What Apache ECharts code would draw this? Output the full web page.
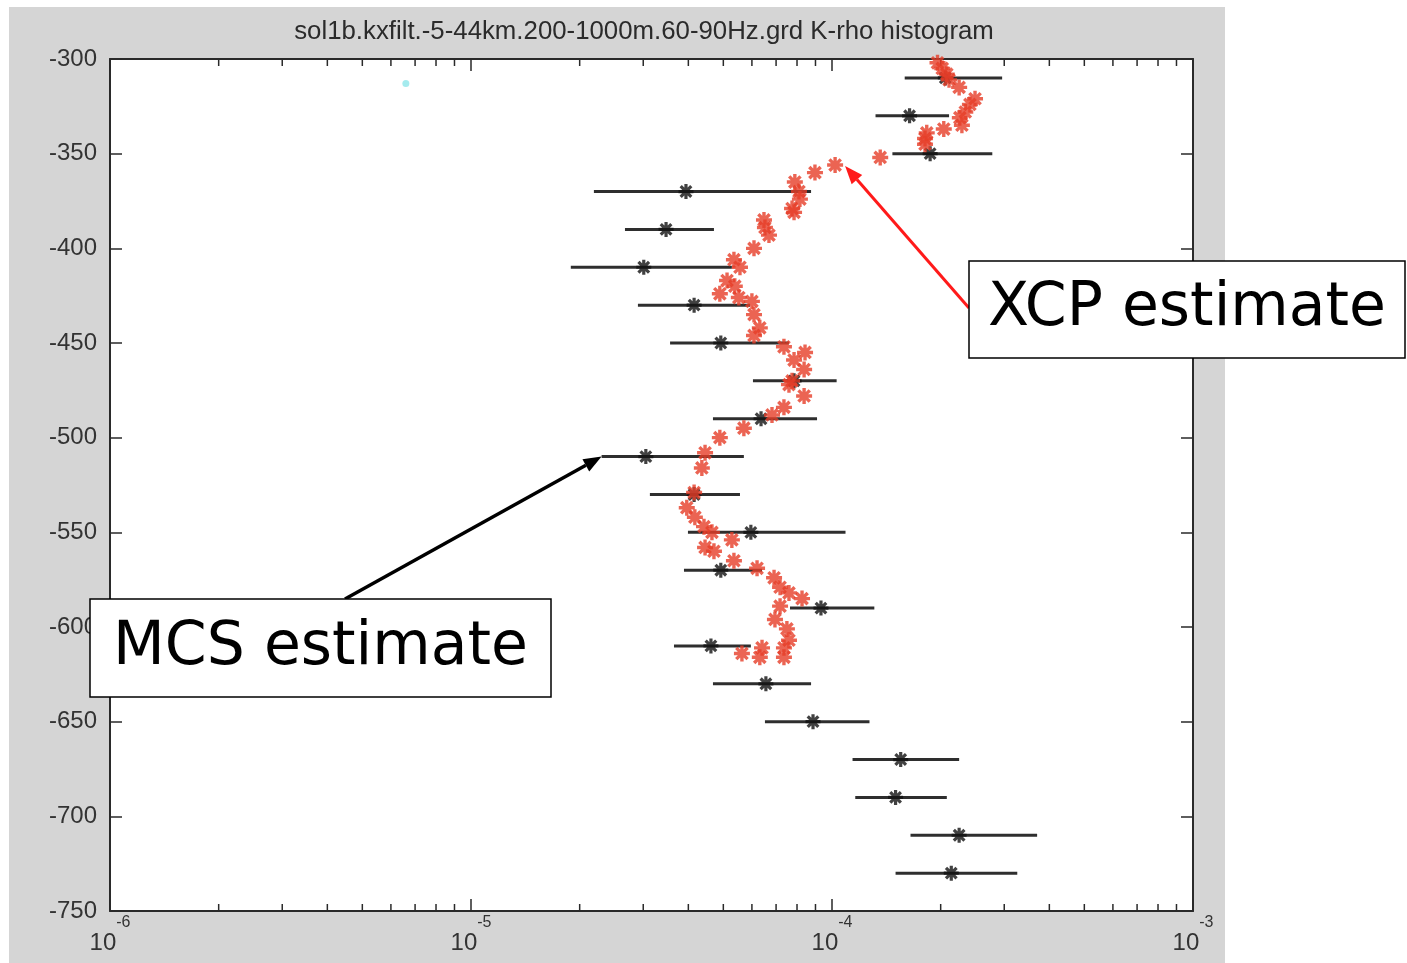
<!DOCTYPE html>
<html>
<head>
<meta charset="utf-8">
<title>K-rho histogram</title>
<script src="https://cdn.jsdelivr.net/npm/echarts@6/dist/echarts.min.js"></script>
<style>
  html, body { margin: 0; padding: 0; background: #ffffff; }
  #frame { position: absolute; left: 9px; top: 7px; width: 1216px; height: 956px; background: #d5d5d5; }
  #chart { position: absolute; left: 0; top: 0; width: 1407px; height: 963px; }
</style>
</head>
<body>
<div id="frame"></div>
<div id="chart"></div>
<script>
// ---- chart text ----
const titleText = 'sol1b.kxfilt.-5-44km.200-1000m.60-90Hz.grd K-rho histogram';
const xcpLabel = 'XCP estimate';
const mcsLabel = 'MCS estimate';

// ---- axes ----
const xMin = 1e-6;
const xMax = 1e-3;
const depthMin = -750;
const depthMax = -300;
const depthStep = 50;
const minorMantissas = [2, 3, 4, 5, 6, 7, 8, 9];
const minorDecades = [1e-6, 1e-5, 1e-4];

// ---- MCS estimate: depth, value and error range ----
const mcsDepth = [-310, -330, -350, -370, -390, -410, -430, -450, -470, -490, -510,
                  -530, -550, -570, -590, -610, -630, -650, -670, -690, -710, -730];
const mcsValue = [2.06e-4, 1.64e-4, 1.87e-4, 3.94e-5, 3.47e-5, 3.01e-5, 4.15e-5, 4.92e-5, 7.85e-5, 6.36e-5, 3.05e-5,
                  4.15e-5, 5.96e-5, 4.92e-5, 9.32e-5, 4.62e-5, 6.56e-5, 8.86e-5, 1.55e-4, 1.50e-4, 2.25e-4, 2.14e-4];
const mcsLow   = [1.59e-4, 1.32e-4, 1.47e-4, 2.19e-5, 2.67e-5, 1.89e-5, 2.90e-5, 3.56e-5, 6.04e-5, 4.68e-5, 2.30e-5,
                  3.13e-5, 3.99e-5, 3.89e-5, 7.65e-5, 3.65e-5, 4.68e-5, 6.52e-5, 1.14e-4, 1.16e-4, 1.65e-4, 1.50e-4];
const mcsHigh  = [2.96e-4, 2.11e-4, 2.78e-4, 8.75e-5, 4.71e-5, 5.28e-5, 5.93e-5, 7.60e-5, 1.03e-4, 9.09e-5, 5.70e-5,
                  5.56e-5, 1.09e-4, 6.40e-5, 1.31e-4, 5.96e-5, 8.75e-5, 1.27e-4, 2.25e-4, 2.08e-4, 3.70e-4, 3.26e-4];

// ---- XCP estimate profile ----
const xcpValue = [1.96e-4, 2.02e-4, 2.08e-4, 2.11e-4, 2.25e-4, 2.49e-4, 2.41e-4, 2.34e-4, 2.26e-4, 2.29e-4,
                  2.04e-4, 1.83e-4, 1.81e-4, 1.81e-4, 1.36e-4, 1.02e-4, 8.97e-5, 7.89e-5, 8.10e-5, 8.15e-5,
                  7.75e-5, 7.85e-5, 6.48e-5, 6.52e-5, 6.69e-5, 6.08e-5, 5.35e-5, 5.56e-5, 5.12e-5, 5.38e-5,
                  4.89e-5, 5.52e-5, 6.00e-5, 6.08e-5, 6.31e-5, 6.08e-5, 7.36e-5, 8.42e-5, 7.85e-5, 8.37e-5,
                  7.75e-5, 7.60e-5, 8.37e-5, 7.36e-5, 6.82e-5, 5.70e-5, 4.89e-5, 4.45e-5, 4.36e-5, 4.15e-5,
                  3.96e-5, 4.17e-5, 4.42e-5, 4.65e-5, 5.28e-5, 4.45e-5, 4.71e-5, 5.35e-5, 6.20e-5, 6.91e-5,
                  7.18e-5, 7.60e-5, 8.26e-5, 7.18e-5, 6.95e-5, 7.50e-5, 7.60e-5, 7.36e-5, 7.36e-5, 6.40e-5,
                  6.31e-5, 5.63e-5];
const xcpDepth = [-302, -305, -308, -311, -315, -321, -324, -328, -331, -335,
                  -337, -339, -342, -345, -352, -356, -360, -365, -370, -374,
                  -379, -381, -385, -389, -393, -400, -406, -410, -417, -420,
                  -424, -426, -428, -435, -442, -446, -452, -455, -459, -464,
                  -470, -472, -478, -484, -488, -495, -500, -508, -516, -529,
                  -537, -542, -547, -550, -554, -558, -560, -565, -569, -574,
                  -579, -582, -585, -589, -596, -601, -607, -611, -616, -611,
                  -616, -614];

// ---- single cyan marker near the top ----
const cyanValue = [6.6e-6];
const cyanDepth = [-313];

// asterisk marker used for both estimates
const asterisk = 'path://M10 0L10 20M0 10L20 10M2.93 2.93L17.07 17.07M2.93 17.07L17.07 2.93';

const FONT = '"Liberation Sans", Arial, Helvetica, sans-serif';
const LABEL_COLOR = '#333333';
const AXIS_COLOR = '#2a2a2a';

const minorTicks = [];
minorDecades.forEach(d => minorMantissas.forEach(m => minorTicks.push([m * d, depthMin])));

const errorBars = mcsDepth.map((d, i) => [mcsLow[i], mcsHigh[i], d]);
const mcsPoints = mcsDepth.map((d, i) => [mcsValue[i], d]);
const xcpPoints = xcpDepth.map((d, i) => [xcpValue[i], d]);
const cyanPoints = cyanDepth.map((d, i) => [cyanValue[i], d]);

const chart = echarts.init(document.getElementById('chart'), null, { renderer: 'canvas' });

const logAxisBase = {
  type: 'log',
  logBase: 10,
  min: xMin,
  max: xMax,
  splitLine: { show: false },
  minorTick: { show: false },
  axisLine: { show: true, onZero: false, lineStyle: { color: AXIS_COLOR, width: 2 } },
  axisTick: { show: true, inside: true, length: 12, lineStyle: { color: AXIS_COLOR, width: 1.5 } }
};
const depthAxisBase = {
  type: 'value',
  min: depthMin,
  max: depthMax,
  interval: depthStep,
  splitLine: { show: false },
  axisLine: { show: true, onZero: false, lineStyle: { color: AXIS_COLOR, width: 2 } },
  axisTick: { show: true, inside: true, length: 12, lineStyle: { color: AXIS_COLOR, width: 1.5 } }
};

chart.setOption({
  animation: false,
  backgroundColor: 'transparent',
  grid: {
    left: 110, right: 214, top: 59, bottom: 52,
    show: true, backgroundColor: '#ffffff', borderWidth: 0,
    containLabel: false, outerBoundsMode: 'none'
  },
  xAxis: [
    Object.assign({}, logAxisBase, {
      position: 'bottom',
      axisLabel: {
        show: true,
        margin: 4,
        formatter: v => '{b|10}{e|' + Math.round(Math.log10(v)) + '}',
        rich: {
          b: { fontSize: 24, fontFamily: FONT, color: LABEL_COLOR, lineHeight: 40, verticalAlign: 'bottom' },
          e: { fontSize: 16, fontFamily: FONT, color: LABEL_COLOR, lineHeight: 16, verticalAlign: 'top' }
        }
      }
    }),
    Object.assign({}, logAxisBase, { position: 'top', axisLabel: { show: false } })
  ],
  yAxis: [
    Object.assign({}, depthAxisBase, {
      position: 'left',
      axisLabel: { show: true, margin: 13, fontSize: 24, fontFamily: FONT, color: LABEL_COLOR }
    }),
    Object.assign({}, depthAxisBase, { position: 'right', axisLabel: { show: false } })
  ],
  series: [
    {
      // minor log ticks along the bottom and top edges
      type: 'custom',
      name: 'minor ticks',
      silent: true,
      xAxisIndex: 0, yAxisIndex: 0,
      data: minorTicks,
      encode: { x: 0, y: 1 },
      z: 5,
      renderItem: (params, api) => {
        const cs = params.coordSys;
        const x = api.coord([api.value(0), depthMin])[0];
        const bottom = cs.y + cs.height;
        const style = { stroke: AXIS_COLOR, lineWidth: 1.5 };
        return {
          type: 'group',
          children: [
            { type: 'line', shape: { x1: x, y1: bottom, x2: x, y2: bottom - 7 }, style },
            { type: 'line', shape: { x1: x, y1: cs.y, x2: x, y2: cs.y + 7 }, style }
          ]
        };
      }
    },
    {
      type: 'custom',
      name: 'MCS range',
      silent: true,
      data: errorBars,
      encode: { x: [0, 1], y: 2 },
      z: 6,
      renderItem: (params, api) => {
        const d = api.value(2);
        const p1 = api.coord([api.value(0), d]);
        const p2 = api.coord([api.value(1), d]);
        return {
          type: 'line',
          shape: { x1: p1[0], y1: p1[1], x2: p2[0], y2: p2[1] },
          style: { stroke: '#2e2e2e', lineWidth: 3 }
        };
      }
    },
    {
      type: 'scatter',
      name: 'MCS estimate',
      silent: true,
      data: mcsPoints,
      symbol: asterisk,
      symbolSize: 15,
      z: 7,
      itemStyle: { color: '#000000', borderColor: '#111111', borderWidth: 3.2 }
    },
    {
      type: 'scatter',
      name: 'XCP estimate',
      silent: true,
      data: xcpPoints,
      symbol: asterisk,
      symbolSize: 16,
      z: 8,
      itemStyle: { color: '#e63d28', borderColor: '#e63d28', borderWidth: 3.4 }
    },
    {
      type: 'scatter',
      name: 'marker',
      silent: true,
      data: cyanPoints,
      symbol: 'circle',
      symbolSize: 7,
      z: 8,
      itemStyle: { color: '#8fe6ea' }
    }
  ]
});

// ---- annotations: title, labelled boxes and arrows ----
function arrow(from, to, color, width, headLen, headHalf) {
  const dx = to[0] - from[0], dy = to[1] - from[1];
  const len = Math.sqrt(dx * dx + dy * dy);
  const ux = dx / len, uy = dy / len;
  const nx = -uy, ny = ux;
  const bx = to[0] - ux * headLen, by = to[1] - uy * headLen;
  return [
    { type: 'line', z: 100, shape: { x1: from[0], y1: from[1], x2: bx, y2: by },
      style: { stroke: color, lineWidth: width } },
    { type: 'polygon', z: 100,
      shape: { points: [[to[0], to[1]], [bx + nx * headHalf, by + ny * headHalf], [bx - nx * headHalf, by - ny * headHalf]] },
      style: { fill: color } }
  ];
}

function box(x, y, w, h, text) {
  return [
    { type: 'rect', z: 100, shape: { x, y, width: w, height: h },
      style: { fill: '#ffffff', stroke: '#000000', lineWidth: 1.5 } },
    { type: 'text', z: 101, x: x + w / 2, y: y + h / 2,
      style: { text, fill: '#000000', fontSize: 60, fontFamily: '"DejaVu Sans", sans-serif',
               textAlign: 'center', textVerticalAlign: 'middle', align: 'center', verticalAlign: 'middle' } }
  ];
}

const gridRef = { xAxisIndex: 0, yAxisIndex: 0 };
const xcpTip = chart.convertToPixel(gridRef, [xcpValue[15], xcpDepth[15]]);
const mcsTip = chart.convertToPixel(gridRef, [mcsLow[10], mcsDepth[10]]);

const xcpBox = { x: 969, y: 261, w: 436, h: 97 };
const mcsBox = { x: 90, y: 599, w: 461, h: 98 };

const elements = [
  { type: 'text', z: 50, x: 644, y: 32,
    style: { text: titleText, fill: '#2b2b2b', fontSize: 25.8, fontFamily: FONT,
             textAlign: 'center', textVerticalAlign: 'middle', align: 'center', verticalAlign: 'middle' } }
]
  .concat(arrow([xcpBox.x, xcpBox.y + 47], [xcpTip[0] + 10, xcpTip[1] + 1], '#ff1a1a', 3, 18, 7))
  .concat(arrow([345, mcsBox.y], [mcsTip[0], mcsTip[1]], '#000000', 3.5, 18, 7))
  .concat(box(xcpBox.x, xcpBox.y, xcpBox.w, xcpBox.h, xcpLabel))
  .concat(box(mcsBox.x, mcsBox.y, mcsBox.w, mcsBox.h, mcsLabel));

chart.setOption({ graphic: { elements } });
</script>
</body>
</html>
